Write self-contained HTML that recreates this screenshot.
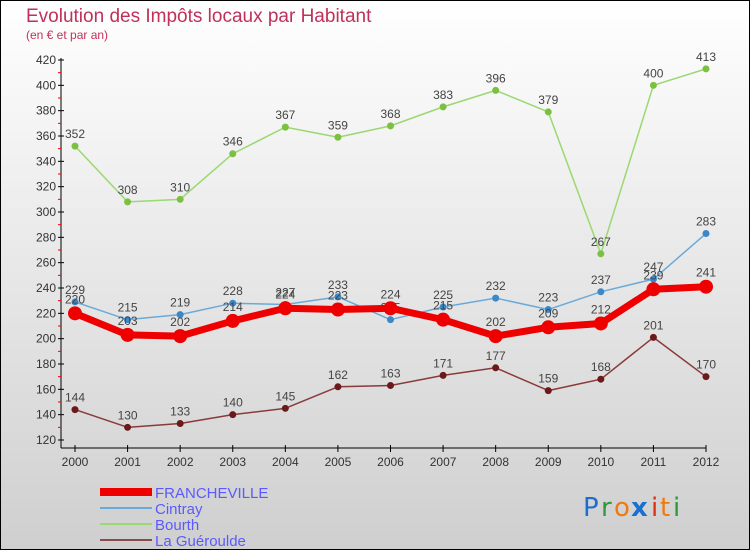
<!DOCTYPE html>
<html><head><meta charset="utf-8"><style>
body{margin:0;width:750px;height:550px;overflow:hidden}
svg{display:block;font-family:"Liberation Sans",sans-serif}
</style></head><body>
<svg id="c" width="750" height="550" xmlns="http://www.w3.org/2000/svg">
<defs><linearGradient id="bg" x1="0" y1="0" x2="0" y2="1"><stop offset="0" stop-color="#ffffff"/><stop offset="1" stop-color="#cfcfcf"/></linearGradient></defs>
<rect x="0.5" y="0.5" width="749" height="549" fill="url(#bg)" stroke="#000"/>
<text x="26" y="22" font-size="19" fill="#c0305a">Evolution des Impôts locaux par Habitant</text>
<text x="26" y="39" font-size="12" fill="#c0305a">(en € et par an)</text>
<g id="axes"></g><g id="plot"></g><g id="legend"></g>
<g font-size="26" font-family="'DejaVu Sans',sans-serif">
<text x="583" y="516" fill="#1a6fd0">P</text><text x="601" y="516" fill="#2a9a3a">r</text><text x="614" y="516" fill="#f07a10">o</text><text x="631" y="516" fill="#1a6fd0" font-weight="bold">x</text><text x="651" y="516" fill="#e03010">i</text><text x="660" y="516" fill="#f07a10">t</text><text x="673" y="516" fill="#2a9a3a">i</text>
</g>
</svg>
<script>
const years=[2000,2001,2002,2003,2004,2005,2006,2007,2008,2009,2010,2011,2012];
const yTicks=[120,140,160,180,200,220,240,260,280,300,320,340,360,380,400,420];
const francheville=[220,203,202,214,224,223,224,215,202,209,212,239,241];
const cintray=[229,215,219,228,227,233,215,225,232,223,237,247,283];
const bourth=[352,308,310,346,367,359,368,383,396,379,267,400,413];
const gueroulde=[144,130,133,140,145,162,163,171,177,159,168,201,170];
const NS="http://www.w3.org/2000/svg";
const X=i=>75+i*(706-75)/12, Y=v=>440-(v-120)*380/300;
function mk(p,t,a){const e=document.createElementNS(NS,t);for(const k in a)e.setAttribute(k,a[k]);p.appendChild(e);return e;}
const ax=document.getElementById('axes'),pl=document.getElementById('plot'),lg=document.getElementById('legend');
let l=mk(ax,'line',{x1:61,y1:58,x2:61,y2:448,stroke:'#000'});


l=mk(ax,'line',{x1:61,y1:448,x2:706,y2:448,stroke:'#000'});


yTicks.forEach((v,i)=>{mk(ax,'line',{x1:58,x2:64,y1:Y(v),y2:Y(v),stroke:'#000'});
 if(i<yTicks.length-1)mk(ax,'line',{x1:58,x2:61,y1:Y(v+10),y2:Y(v+10),stroke:'#e00'});
 const t=mk(ax,'text',{x:56,y:Y(v)+4,'font-size':12,fill:'#333','text-anchor':'end'});t.textContent=v;
 
 });
years.forEach((y,i)=>{mk(ax,'line',{x1:X(i),x2:X(i),y1:445,y2:452,stroke:'#000'});
 const t=mk(ax,'text',{x:X(i),y:466,'font-size':12,fill:'#333','text-anchor':'middle'});t.textContent=y;
 
 });
function series(d,name,color,dot,w,r,dy){
 const g=mk(pl,'g',{});
 
 
 mk(g,'polyline',{points:d.map((v,i)=>X(i)+','+Y(v)).join(' '),fill:'none',stroke:color,'stroke-width':w,'stroke-linejoin':'round'});
 d.forEach((v,i)=>{const c=mk(g,'circle',{cx:X(i),cy:Y(v),r:r,fill:dot});
  
  
  const t=mk(g,'text',{x:X(i),y:Y(v)-dy,'font-size':12,fill:'#444','text-anchor':'middle'});t.textContent=v;});
}
series(gueroulde,'la-gueroulde','#8a3a3a','#6a1a1a',1.5,3.5,8);
series(bourth,'bourth','#9ad870','#7cc040',1.5,3.5,8);
series(cintray,'cintray','#6aaad8','#3a88c8',1.5,3.5,8);
series(francheville,'francheville','#ee0000','#ee0000',7,7,10);
[['FRANCHEVILLE','#ee0000',8],['Cintray','#6aaad8',2],['Bourth','#9ad870',2],['La Guéroulde','#8a4a4a',2]].forEach((e,i)=>{
 const y=492+i*16;const g=mk(lg,'g',{});
 
 
 mk(g,'line',{x1:100,x2:152,y1:y,y2:y,stroke:e[1],'stroke-width':e[2]});
 const t=mk(g,'text',{x:155,y:y+6,'font-size':15,fill:'#5a5aff'});t.textContent=e[0];});
</script>
</body></html>
